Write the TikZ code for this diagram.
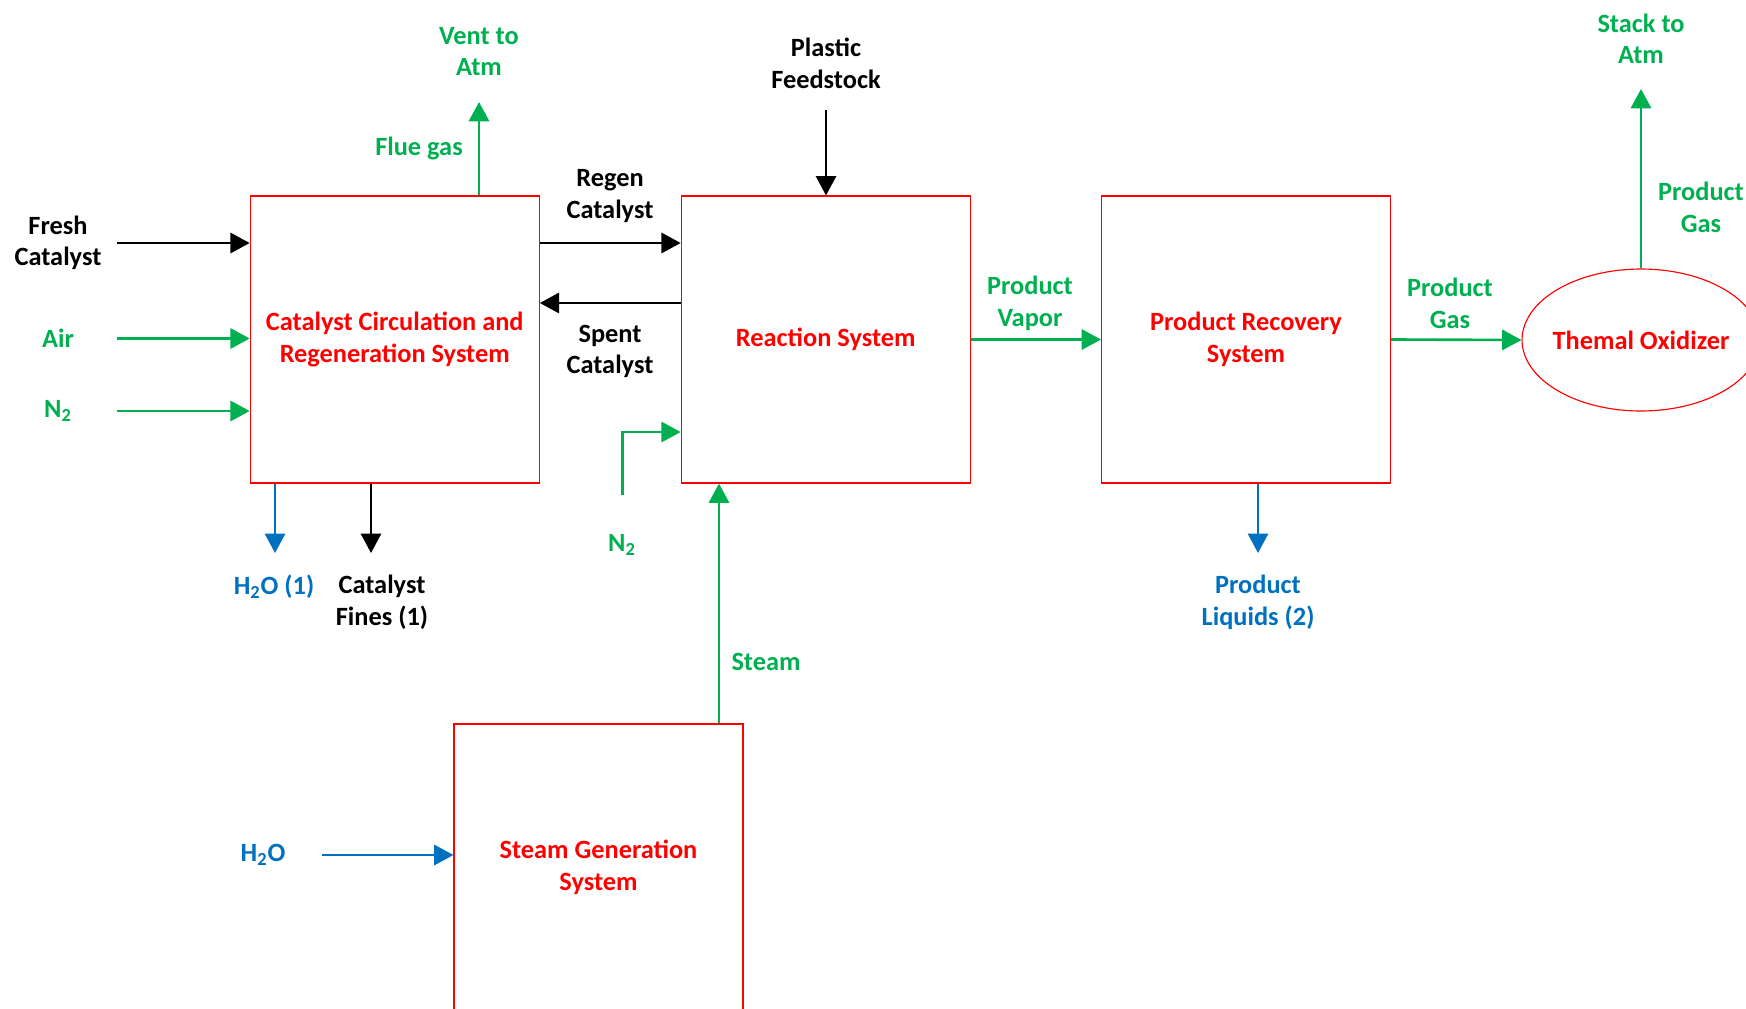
\documentclass[tikz,border=0pt]{standalone}
\usepackage{fontspec}
\setmainfont{Carlito}
\usetikzlibrary{arrows.meta}
\usetikzlibrary{shapes.geometric}
\definecolor{boxred}{RGB}{255,0,0}
\definecolor{flowgreen}{RGB}{0,176,80}
\definecolor{flowblue}{RGB}{0,112,192}
\newcommand{\lbl}{\fontsize{15}{18}\selectfont\bfseries}

\begin{document}
\begin{tikzpicture}[x=0.02cm, y=-0.02cm,
    every node/.style={font=\lbl, align=center},
    unit/.style={draw=boxred, line width=0.65pt, text=boxred,
      minimum width=5.78cm, minimum height=5.74cm, inner sep=0pt},
    flow/.style={line width=1.5pt, -{Triangle[length=11pt,width=11.5pt]}},
    thinflow/.style={flow, line width=1.1pt},
    gflow/.style={flow, draw=flowgreen},
    bflow/.style={flow, draw=flowblue},
    kflow/.style={flow, draw=black}]
  \useasboundingbox (0,0) rectangle (1746,1008);
  %% units
  \node[unit] (ccrs) at (394.75,339.5) {Catalyst Circulation and\\Regeneration System};
  \node[unit] (reac) at (825.75,339.5) {Reaction System};
  \node[unit] (recov) at (1246,339.5) {Product Recovery\\System};
  \node[unit] (sgen) at (598.5,867.5) {Steam Generation\\System};
  \node[ellipse, draw=boxred, line width=0.65pt, text=boxred, inner sep=0pt,
    minimum width=4.76cm, minimum height=2.84cm] (oxid) at (1641,340)
    {\makebox[0pt]{Themal Oxidizer}};
  %% stream labels
  \node (fresh) at (58,243) {Fresh\\Catalyst};
  \node[text=flowgreen] (air) at (58,338.5) {Air};
  \node[text=flowgreen] (ntwo) at (58,411) {N\textsubscript{2}};
  \node[text=flowgreen] (vent) at (479,51.5) {Vent to\\Atm};
  \node[text=flowgreen] (flue) at (419,148) {Flue gas};
  \node (regen) at (610,196) {Regen\\Catalyst};
  \node (spent) at (610,351.5) {Spent\\Catalyst};
  \node (plastic) at (826,63.5) {Plastic\\Feedstock};
  \node[text=flowgreen] (vapor) at (1030,303.5) {Product\\Vapor};
  \node[text=flowgreen] (pgas) at (1450,303.5) {Product\\Gas};
  \node[text=flowgreen] (stack) at (1641,39) {Stack to\\Atm};
  \node[text=flowgreen] (pgastop) at (1701,207.5) {Product\\Gas};
  \node[text=flowblue] (wone) at (274,587) {H\textsubscript{2}O (1)};
  \node (fines) at (382,602.5) {Catalyst\\Fines (1)};
  \node[text=flowblue] (liquids) at (1258,602.5) {Product\\Liquids (2)};
  \node[text=flowgreen] (ntwob) at (622,545) {N\textsubscript{2}};
  \node[text=flowgreen] (steam) at (766,662) {Steam};
  \node[text=flowblue] (water) at (263,855) {H\textsubscript{2}O};
  %% free ends
  \coordinate (fcin) at (117,243);
  \coordinate (airin) at (117,338.5);
  \coordinate (ntwoin) at (117,411);
  \coordinate (ventend) at (479,102);
  \coordinate (plasticin) at (826,110);
  \coordinate (stackend) at (1641,89);
  \coordinate (woneend) at (275,553);
  \coordinate (finesend) at (371,553);
  \coordinate (liqend) at (1258,553);
  \coordinate (ntwobin) at (622.5,495);
  \coordinate (waterin) at (322,855);
  %% streams
  \draw[kflow] (fcin) -- (ccrs.west |- fcin);
  \draw[gflow] (airin) -- (ccrs.west |- airin);
  \draw[gflow] (ntwoin) -- (ccrs.west |- ntwoin);
  \draw[gflow] (ccrs.north -| ventend) -- (ventend);
  \draw[kflow] (ccrs.east |- fcin) -- (reac.west |- fcin);
  \draw[kflow] (reac.west |- 0,303) -- (ccrs.east |- 0,303);
  \draw[kflow, thinflow] (plasticin) -- (reac.north -| plasticin);
  \draw[gflow] (reac.east) -- (recov.west);
  \draw[gflow] (recov.east) -- (oxid.west);
  \draw[gflow] (oxid.north) -- (stackend);
  \draw[bflow, thinflow] (ccrs.south -| woneend) -- (woneend);
  \draw[kflow, thinflow] (ccrs.south -| finesend) -- (finesend);
  \draw[bflow, thinflow] (recov.south -| liqend) -- (liqend);
  \draw[gflow] (ntwobin) |- (reac.west |- 0,432);
  \draw[gflow] (sgen.north -| 719,0) -- (reac.south -| 719,0);
  \draw[bflow] (waterin) -- (sgen.west |- waterin);
\end{tikzpicture}
\end{document}
